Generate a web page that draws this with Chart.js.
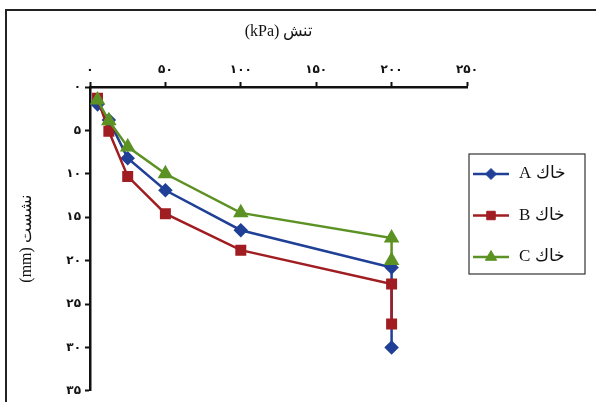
<!DOCTYPE html>
<html>
<head>
<meta charset="utf-8">
<script src="https://cdn.jsdelivr.net/npm/chart.js@4.4.1/dist/chart.umd.min.js"></script>
<style>
  html, body { margin: 0; padding: 0; background: #fff; }
  #wrap { width: 596px; height: 402px; }
</style>
</head>
<body>
<div id="wrap"><canvas id="SettlementChart" width="596" height="402"></canvas></div>
<script>
// stress (kPa) and settlement (mm)
var stress = [5, 12.5, 25, 50, 100, 200, 200];
var soilA = [2.0, 3.8, 8.2, 11.9, 16.5, 20.8, 30.0];
var soilB = [1.3, 5.1, 10.3, 14.6, 18.8, 22.7, 27.3];
var soilC = [1.5, 3.9, 6.9, 10.0, 14.5, 17.4, 20.0];

var seriesNames = ["خاك A", "خاك B", "خاك C"];
var xTicks = [0, 50, 100, 150, 200, 250];
var yTicks = [0, 5, 10, 15, 20, 25, 30, 35];
var faDigits = ["۰", "۱", "۲", "۳", "۴", "۵", "۶", "۷", "۸", "۹"];

function toFa(n) {
    return String(n).split("").map(function (c) {
        return faDigits[+c] !== undefined ? faDigits[+c] : c;
    }).join("");
}

function points(ys) {
    return stress.map(function (s, i) { return { x: s, y: ys[i] }; });
}

// outer frame of the figure
var framePlugin = {
    id: "frame",
    beforeDraw: function (chart) {
        var ctx = chart.ctx;
        ctx.save();
        ctx.strokeStyle = "#222";
        ctx.lineWidth = 2;
        ctx.strokeRect(6, 10, 800, 600);
        ctx.restore();
    }
};

// boxed legend to the right of the plot
var legendPlugin = {
    id: "boxLegend",
    afterDraw: function (chart) {
        var ctx = chart.ctx;
        var a = chart.chartArea;
        var left = a.right + 2, top = a.top + 67, w = 116, h = 120;
        ctx.save();
        ctx.strokeStyle = "#333";
        ctx.lineWidth = 1.2;
        ctx.strokeRect(left, top, w, h);
        chart.data.datasets.forEach(function (ds, i) {
            var y = top + 20 + i * 41.5;
            ctx.strokeStyle = ds.borderColor;
            ctx.lineWidth = 2.5;
            ctx.beginPath();
            ctx.moveTo(left + 4, y);
            ctx.lineTo(left + 40, y);
            ctx.stroke();
            ctx.fillStyle = ds.backgroundColor;
            ctx.strokeStyle = ds.borderColor;
            ctx.lineWidth = 1;
            Chart.helpers.drawPoint(ctx, {
                pointStyle: ds.pointStyle,
                radius: ds.pointRadius,
                borderWidth: 1,
                rotation: 0
            }, left + 22, y);
            ctx.fillStyle = "#111";
            ctx.font = '17px "Liberation Serif", "DejaVu Serif", serif';
            ctx.direction = "rtl";
            ctx.textAlign = "left";
            ctx.textBaseline = "middle";
            ctx.fillText(ds.label, left + 50, y);
        });
        ctx.restore();
    }
};

var ctx1 = document.getElementById("SettlementChart").getContext("2d");

var SettlementChart = new Chart(ctx1,
    {
        type: "line",
        data: {
            datasets: [
                {
                    label: seriesNames[0],
                    data: points(soilA),
                    borderColor: "#1f4096",
                    backgroundColor: "#1f4096",
                    pointStyle: "rectRot",
                    pointRadius: 5.5,
                    borderWidth: 2.5,
                    order: 3
                },
                {
                    label: seriesNames[1],
                    data: points(soilB),
                    borderColor: "#a01d22",
                    backgroundColor: "#a01d22",
                    pointStyle: "rect",
                    pointRadius: 6,
                    borderWidth: 2.5,
                    order: 2
                },
                {
                    label: seriesNames[2],
                    data: points(soilC),
                    borderColor: "#5b9223",
                    backgroundColor: "#5b9223",
                    pointStyle: "triangle",
                    pointRadius: 6.5,
                    borderWidth: 2.5,
                    order: 1
                }
            ]
        },
        options: {
            responsive: false,
            animation: false,
            layout: {
                padding: { left: 0, top: 0, right: 129, bottom: 5 }
            },
            plugins: {
                legend: { display: false },
                tooltip: { enabled: false }
            },
            scales: {
                x: {
                    type: "linear",
                    position: "top",
                    min: 0,
                    max: 250,
                    afterFit: function (scale) { scale.height = 87; },
                    afterBuildTicks: function (scale) {
                        scale.ticks = xTicks.map(function (v) { return { value: v }; });
                    },
                    ticks: {
                        color: "#111",
                        padding: 5,
                        maxRotation: 0,
                        font: { family: "DejaVu Sans", size: 12, weight: "bold" },
                        callback: function (v) { return toFa(v); }
                    },
                    grid: {
                        drawOnChartArea: false,
                        tickLength: 5,
                        tickWidth: 2,
                        tickColor: "#111"
                    },
                    border: { color: "#111", width: 2.5 },
                    title: {
                        display: true,
                        text: "\u2067تنش (kPa)\u2069",
                        color: "#111",
                        font: { family: "Liberation Serif", size: 16 },
                        padding: { top: 22, bottom: 0 }
                    }
                },
                y: {
                    type: "linear",
                    reverse: true,
                    min: 0,
                    max: 35,
                    afterFit: function (scale) { scale.width = 90; },
                    afterBuildTicks: function (scale) {
                        scale.ticks = yTicks.map(function (v) { return { value: v }; });
                    },
                    ticks: {
                        color: "#111",
                        padding: 4,
                        font: { family: "DejaVu Sans", size: 12, weight: "bold" },
                        callback: function (v) { return toFa(v); }
                    },
                    grid: {
                        drawOnChartArea: false,
                        tickLength: 5,
                        tickWidth: 2,
                        tickColor: "#111"
                    },
                    border: { color: "#111", width: 2.5 },
                    title: {
                        display: true,
                        text: "\u2067نشست (mm)\u2069",
                        color: "#111",
                        font: { family: "Liberation Serif", size: 16 },
                        padding: { top: 17, bottom: 0 }
                    }
                }
            }
        },
        plugins: [framePlugin, legendPlugin]
    });
</script>
</body>
</html>
